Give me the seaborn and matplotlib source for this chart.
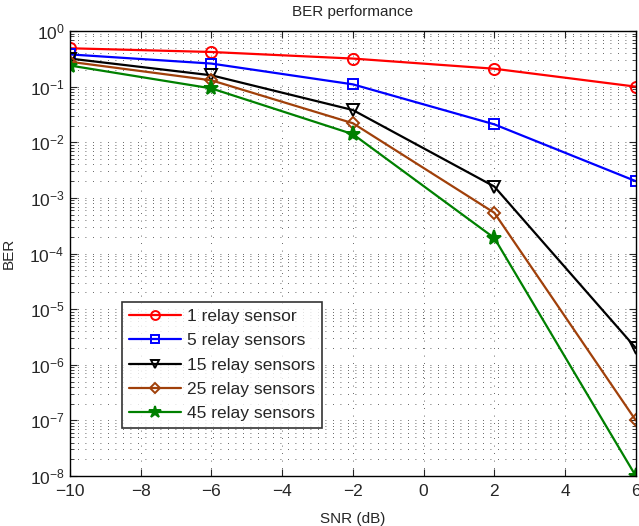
import matplotlib
matplotlib.use("Agg")
import matplotlib.pyplot as plt
import seaborn as sns
import pandas as pd
import numpy as np
from matplotlib.ticker import LogLocator, MultipleLocator, NullFormatter

sns.set_style("ticks")
plt.rcParams['font.family'] = ['Liberation Sans', 'DejaVu Sans']
plt.rcParams['mathtext.fontset'] = 'custom'
plt.rcParams['mathtext.rm'] = 'Liberation Sans'
plt.rcParams['mathtext.it'] = 'Liberation Sans'

snr = [-10, -6, -2, 2, 6]
labels = ["1 relay sensor", "5 relay sensors", "15 relay sensors",
          "25 relay sensors", "45 relay sensors"]
ber_1 = [0.49, 0.42, 0.32, 0.21, 0.10]
ber_5 = [0.38, 0.26, 0.11, 0.021, 0.002]
ber_15 = [0.32, 0.16, 0.038, 0.0016, 2.0e-6]
ber_25 = [0.28, 0.13, 0.022, 5.4e-4, 1.0e-7]
ber_45 = [0.24, 0.093, 0.014, 1.9e-4, 1.0e-8]
series = [ber_1, ber_5, ber_15, ber_25, ber_45]

colors = ['#ff0000', '#0000ff', '#000000', '#a0400a', '#008000']
markers = ['o', 's', 'v', 'D', '*']
msizes = [8, 7, 8, 6, 11]

rows = []
for lab, vals in zip(labels, series):
    for x, v in zip(snr, vals):
        rows.append({"SNR": x, "BER": v, "series": lab})
df = pd.DataFrame(rows)

fig = plt.figure(figsize=(6.39, 5.26), dpi=100)
ax = fig.add_axes([0.1095, 0.095, 0.8855, 0.846])

for lab, c, m, ms in zip(labels, colors, markers, msizes):
    sub = df[df["series"] == lab]
    filled = (m == '*')
    sns.lineplot(data=sub, x="SNR", y="BER", ax=ax, color=c, marker=m,
                 markersize=ms, linewidth=1.6, label=lab,
                 markerfacecolor=c if filled else 'none',
                 markeredgecolor=c, markeredgewidth=1.4, sort=False)

ax.set_yscale('log')
ax.set_xlim(-10, 6)
ax.set_ylim(1e-8, 1)
ax.xaxis.set_major_locator(MultipleLocator(2))
ax.yaxis.set_major_locator(LogLocator(base=10, numticks=20))
ax.yaxis.set_minor_locator(LogLocator(base=10, subs=np.arange(2, 10), numticks=20))
ax.yaxis.set_minor_formatter(NullFormatter())

ax.grid(True, which='major', axis='both', linestyle=(0, (1, 8)), color='#333333', linewidth=0.6)
ax.grid(True, which='minor', axis='y', linestyle=(0, (1, 8)), color='#333333', linewidth=0.6)

ax.tick_params(which='both', direction='in', top=True, right=True, labelsize=12.5)
ax.tick_params(which='major', length=5)
ax.tick_params(which='minor', length=3)
ax.tick_params(axis='x', which='major', pad=6)
ax.tick_params(axis='y', which='major', pad=4)
for s in ax.spines.values():
    s.set_linewidth(1.0)
    s.set_color('black')

ax.set_title("BER performance", fontsize=11, pad=11)
ax.set_xlabel("SNR (dB)", fontsize=11, labelpad=9)
ax.set_ylabel("BER", fontsize=11, labelpad=10)

leg = ax.legend(loc='lower left', bbox_to_anchor=(0.092, 0.108), borderaxespad=0,
                fontsize=12.5, frameon=True, fancybox=False, edgecolor='black',
                handlelength=3.0, handletextpad=0.35, borderpad=0.4,
                labelspacing=0.52, markerscale=0.8)
leg.get_frame().set_linewidth(1.2)

fig.savefig("out.png", dpi=100)
